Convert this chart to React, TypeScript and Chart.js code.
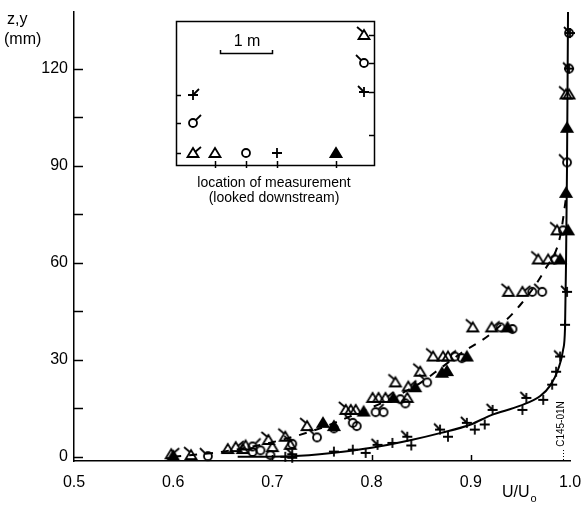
import { useEffect, useRef } from 'react';
import { Chart, registerables } from 'chart.js';
Chart.register(...registerables);

const xTicks = [0.5, 0.6, 0.7, 0.8, 0.9, 1.0];
const yTicks = [0, 30, 60, 90, 120];
const yMinor = [15, 45, 75, 105];

// solid profile (through the + measurements)
const solidProfile: [number, number][] = [
  [0.665, 0], [0.72, 0.2], [0.76, 1.2], [0.8, 2.8], [0.84, 5.2], [0.87, 7.4], [0.9, 10],
  [0.92, 12.8], [0.95, 15.8], [0.97, 18.8], [0.98, 22], [0.988, 27], [0.993, 33], [0.995, 40],
  [0.996, 60], [0.997, 90], [0.998, 137.5],
];
// dashed profile (through the triangle / circle measurements)
const dashedProfile: [number, number][] = [
  [0.6, 0], [0.65, 1.6], [0.7, 4.5], [0.75, 9], [0.79, 14], [0.82, 18], [0.85, 23],
  [0.87, 27.5], [0.89, 32], [0.92, 38], [0.95, 47], [0.975, 58], [0.99, 68], [0.996, 80],
];

const triTailUL: [number, number][] = [
  [0.618, 0.5], [0.696, 5.2], [0.713, 6.2], [0.735, 9.5], [0.774, 14.5], [0.824, 23], [0.849, 26.3],
  [0.862, 31], [0.902, 40], [0.938, 51], [0.968, 61], [0.987, 70], [0.996, 112],
];
const triTailUR: [number, number][] = [
  [0.598, 0.8], [0.663, 3], [0.814, 18.2], [0.837, 21.7], [0.877, 31], [0.921, 40], [0.952, 51], [0.978, 61],
];
const triOpen: [number, number][] = [
  [0.655, 2.4], [0.67, 2.4], [0.673, 3.5], [0.7, 3], [0.718, 3.7], [0.779, 14.5], [0.784, 14.5],
  [0.801, 18.2], [0.807, 18.2], [0.836, 18.2], [0.872, 31], [0.999, 112],
];
const circOpen: [number, number][] = [
  [0.68, 1.5], [0.688, 2], [0.698, 0.5], [0.762, 8.8], [0.785, 9.5], [0.812, 13.8], [0.829, 17.8],
  [0.834, 16.5], [0.884, 31], [0.891, 30.5], [0.93, 40], [0.942, 39.5], [0.962, 51], [0.985, 61],
  [0.993, 70], [0.999, 131], [0.999, 120],
];
const circTailUL: [number, number][] = [
  [0.635, 0.2], [0.72, 4], [0.745, 6], [0.781, 10.5], [0.856, 23], [0.972, 51], [0.997, 91],
];
const circTailUR: [number, number][] = [
  [0.68, 3.2], [0.804, 13.8],
];
const triFilled: [number, number][] = [
  [0.6, 0.3], [0.751, 10.5], [0.762, 9.5], [0.792, 14], [0.822, 18.2], [0.844, 21.5], [0.871, 26],
  [0.876, 26.5], [0.896, 31], [0.937, 40], [0.99, 61], [0.998, 70], [0.996, 81.6], [0.997, 101.7],
];
const plusTail: [number, number][] = [
  [0.72, 0.8], [0.806, 3.7], [0.836, 6.2], [0.869, 8.4], [0.896, 10.5], [0.922, 14.5], [0.956, 18.2],
  [0.99, 31], [0.997, 51], [0.999, 120], [1.0, 131],
];
const plusOpen: [number, number][] = [
  [0.713, 0], [0.72, -0.3], [0.762, 1.6], [0.781, 2.2], [0.794, 1.2], [0.821, 4.3], [0.84, 3.5],
  [0.877, 6.2], [0.904, 8.4], [0.914, 10], [0.952, 14.5], [0.973, 17.6], [0.982, 22.3],
  [0.986, 26.3], [0.995, 40.8],
];

type Shape = 'tri' | 'circ' | 'plus';
type Tail = 'none' | 'ul' | 'ur';

function makeMarker(shape: Shape, filled: boolean, tail: Tail): HTMLCanvasElement {
  const s = 26;
  const c = document.createElement('canvas');
  c.width = s;
  c.height = s;
  const g = c.getContext('2d')!;
  g.strokeStyle = '#000';
  g.fillStyle = '#000';
  g.lineWidth = 1.8;
  g.lineCap = 'butt';
  const cx = s / 2, cy = s / 2;
  if (shape === 'tri') {
    g.beginPath();
    g.moveTo(cx, cy - 5);
    g.lineTo(cx + 5.5, cy + 4);
    g.lineTo(cx - 5.5, cy + 4);
    g.closePath();
    if (filled) g.fill();
    g.stroke();
    if (tail === 'ul') { g.beginPath(); g.moveTo(cx - 1, cy - 3); g.lineTo(cx - 7, cy - 8); g.stroke(); }
    if (tail === 'ur') { g.beginPath(); g.moveTo(cx + 2, cy - 1); g.lineTo(cx + 8, cy - 6); g.stroke(); }
  } else if (shape === 'circ') {
    g.beginPath();
    g.arc(cx, cy, 4, 0, Math.PI * 2);
    if (filled) g.fill();
    g.stroke();
    if (tail === 'ul') { g.beginPath(); g.moveTo(cx - 2.8, cy - 2.8); g.lineTo(cx - 8, cy - 8); g.stroke(); }
    if (tail === 'ur') { g.beginPath(); g.moveTo(cx + 2.8, cy - 2.8); g.lineTo(cx + 8, cy - 8); g.stroke(); }
  } else {
    g.beginPath();
    g.moveTo(cx - 5, cy); g.lineTo(cx + 5, cy);
    g.moveTo(cx, cy - 5); g.lineTo(cx, cy + 5);
    g.stroke();
    if (tail === 'ul') { g.beginPath(); g.moveTo(cx, cy); g.lineTo(cx - 6, cy - 6); g.stroke(); }
    if (tail === 'ur') { g.beginPath(); g.moveTo(cx, cy); g.lineTo(cx + 6, cy - 6); g.stroke(); }
  }
  return c;
}

const FONT = '"Liberation Sans", Arial, Helvetica, sans-serif';

export default function App() {
  const ref = useRef<HTMLCanvasElement | null>(null);

  useEffect(() => {
    if (!ref.current) return;
    const m = {
      triUL: makeMarker('tri', false, 'ul'),
      triUR: makeMarker('tri', false, 'ur'),
      tri: makeMarker('tri', false, 'none'),
      triF: makeMarker('tri', true, 'none'),
      circ: makeMarker('circ', false, 'none'),
      circUL: makeMarker('circ', false, 'ul'),
      circUR: makeMarker('circ', false, 'ur'),
      plus: makeMarker('plus', false, 'none'),
      plusUL: makeMarker('plus', false, 'ul'),
      plusUR: makeMarker('plus', false, 'ur'),
    };
    const pts = (a: [number, number][]) => a.map(([x, y]) => ({ x, y }));
    const markerSet = (data: [number, number][], style: HTMLCanvasElement) => ({
      type: 'scatter' as const,
      data: pts(data),
      pointStyle: style,
      pointRadius: 5,
      showLine: false,
      clip: false as any,
    });

    const decor = {
      id: 'decor',
      afterDraw(chart: any) {
        const ctx: CanvasRenderingContext2D = chart.ctx;
        const xs = chart.scales.x, ys = chart.scales.y;
        const area = chart.chartArea;
        ctx.save();
        ctx.strokeStyle = '#000';
        ctx.fillStyle = '#000';
        ctx.lineWidth = 1.5;
        // inward y ticks
        for (const v of yTicks.concat(yMinor)) {
          const py = Math.round(ys.getPixelForValue(v)) + 0.5;
          ctx.beginPath();
          ctx.moveTo(area.left, py);
          ctx.lineTo(area.left + 9, py);
          ctx.stroke();
        }
        // inward x ticks
        for (const v of xTicks.slice(1, -1)) {
          const px = Math.round(xs.getPixelForValue(v)) + 0.5;
          ctx.beginPath();
          ctx.moveTo(px, area.bottom);
          ctx.lineTo(px, area.bottom - 6);
          ctx.stroke();
        }
        // axis titles
        ctx.font = `16px ${FONT}`;
        ctx.textAlign = 'left';
        ctx.textBaseline = 'alphabetic';
        ctx.fillText('z,y', 7, 24);
        ctx.fillText('(mm)', 4, 44);
        ctx.fillText('U/U', 502, 497);
        const w = ctx.measureText('U/U').width;
        ctx.font = `11px ${FONT}`;
        ctx.fillText('o', 502 + w + 1, 502);

        // identification code
        ctx.save();
        ctx.translate(561, 424);
        ctx.rotate(-Math.PI / 2);
        ctx.font = `10px ${FONT}`;
        ctx.textAlign = 'center';
        ctx.textBaseline = 'middle';
        ctx.fillText('C145-01N', 0, 0);
        ctx.restore();
        ctx.lineWidth = 1;
        ctx.setLineDash([1, 2]);
        ctx.beginPath();
        ctx.moveTo(563.5, 450);
        ctx.lineTo(563.5, 461);
        ctx.stroke();
        ctx.setLineDash([]);

        // inset box
        const L = 176, T = 21, R = 374, B = 165;
        ctx.lineWidth = 1.5;
        ctx.strokeRect(L + 0.5, T + 0.5, R - L, B - T);
        for (const y of [95, 123, 153]) {
          ctx.beginPath(); ctx.moveTo(L, y + 0.5); ctx.lineTo(L + 5, y + 0.5); ctx.stroke();
        }
        for (const y of [35, 63, 92, 135]) {
          ctx.beginPath(); ctx.moveTo(R, y + 0.5); ctx.lineTo(R - 5, y + 0.5); ctx.stroke();
        }
        for (const x of [215, 246, 277, 336]) {
          ctx.beginPath(); ctx.moveTo(x + 0.5, B - 4); ctx.lineTo(x + 0.5, B + 3); ctx.stroke();
        }
        const put = (img: HTMLCanvasElement, x: number, y: number) =>
          ctx.drawImage(img, x - img.width / 2, y - img.height / 2);
        put(m.plusUR, 193, 95);
        put(m.circUR, 193, 123);
        put(m.triUR, 193, 153);
        put(m.tri, 215, 153);
        put(m.circ, 246, 153);
        put(m.plus, 277, 153);
        put(m.triF, 336, 153);
        put(m.triUL, 364, 35);
        put(m.circUL, 364, 63);
        put(m.plusUL, 364, 92);
        // scale bar
        ctx.font = `16px ${FONT}`;
        ctx.textAlign = 'center';
        ctx.textBaseline = 'middle';
        ctx.fillText('1 m', 247, 42);
        ctx.lineWidth = 1.5;
        ctx.beginPath();
        ctx.moveTo(220.5, 50); ctx.lineTo(220.5, 53.5); ctx.lineTo(272.5, 53.5); ctx.lineTo(272.5, 50);
        ctx.stroke();
        // caption
        ctx.font = `14px ${FONT}`;
        ctx.fillText('location of measurement', 274, 183);
        ctx.fillText('(looked downstream)', 274, 198);
        ctx.restore();
      },
    };

    const chart = new Chart(ref.current, {
      type: 'scatter',
      data: {
        datasets: [
          markerSet(triTailUL, m.triUL),
          markerSet(triTailUR, m.triUR),
          markerSet(triOpen, m.tri),
          markerSet(circOpen, m.circ),
          markerSet(circTailUL, m.circUL),
          markerSet(circTailUR, m.circUR),
          markerSet(triFilled, m.triF),
          markerSet(plusTail, m.plusUL),
          markerSet(plusOpen, m.plus),
          {
            type: 'line' as const,
            data: pts(solidProfile),
            borderColor: '#000',
            borderWidth: 2,
            pointRadius: 0,
            cubicInterpolationMode: 'monotone' as const,
            fill: false,
            clip: false as any,
          },
          {
            type: 'line' as const,
            data: pts(dashedProfile),
            borderColor: '#000',
            borderWidth: 2,
            borderDash: [8, 8],
            pointRadius: 0,
            cubicInterpolationMode: 'monotone' as const,
            fill: false,
            clip: false as any,
          },
        ] as any,
      },
      options: {
        animation: false,
        responsive: false,
        maintainAspectRatio: false,
        layout: { autoPadding: false, padding: { left: 0, right: 12, top: 12, bottom: 0 } },
        plugins: { legend: { display: false }, tooltip: { enabled: false } },
        scales: {
          x: {
            type: 'linear',
            min: 0.5,
            max: 1.0,
            afterFit: (s: any) => { s.height = 49; s.paddingRight = 0; s.paddingLeft = 0; },
            afterBuildTicks: (s: any) => { s.ticks = xTicks.map((v) => ({ value: v })); },
            ticks: {
              color: '#000',
              font: { family: FONT, size: 16 },
              padding: 12,
              maxRotation: 0,
              callback: (v: any) => Number(v).toFixed(1),
            },
            grid: { display: false, drawTicks: false },
            border: { display: true, color: '#000', width: 1.5 },
          },
          y: {
            type: 'linear',
            min: -1.3,
            max: 137.5,
            afterFit: (s: any) => { s.width = 74; s.paddingTop = 0; s.paddingBottom = 0; },
            afterBuildTicks: (s: any) => { s.ticks = yTicks.map((v) => ({ value: v })); },
            ticks: {
              color: '#000',
              font: { family: FONT, size: 16 },
              padding: 6,
              callback: (v: any) => String(v),
            },
            grid: { display: false, drawTicks: false },
            border: { display: true, color: '#000', width: 1.5 },
          },
        },
      },
      plugins: [decor],
    });
    return () => chart.destroy();
  }, []);

  return (
    <div style={{ position: 'fixed', left: 0, top: 0, width: 582, height: 510, background: '#fff' }}>
      <canvas ref={ref} width={582} height={510} style={{ width: 582, height: 510, display: 'block' }} />
    </div>
  );
}
